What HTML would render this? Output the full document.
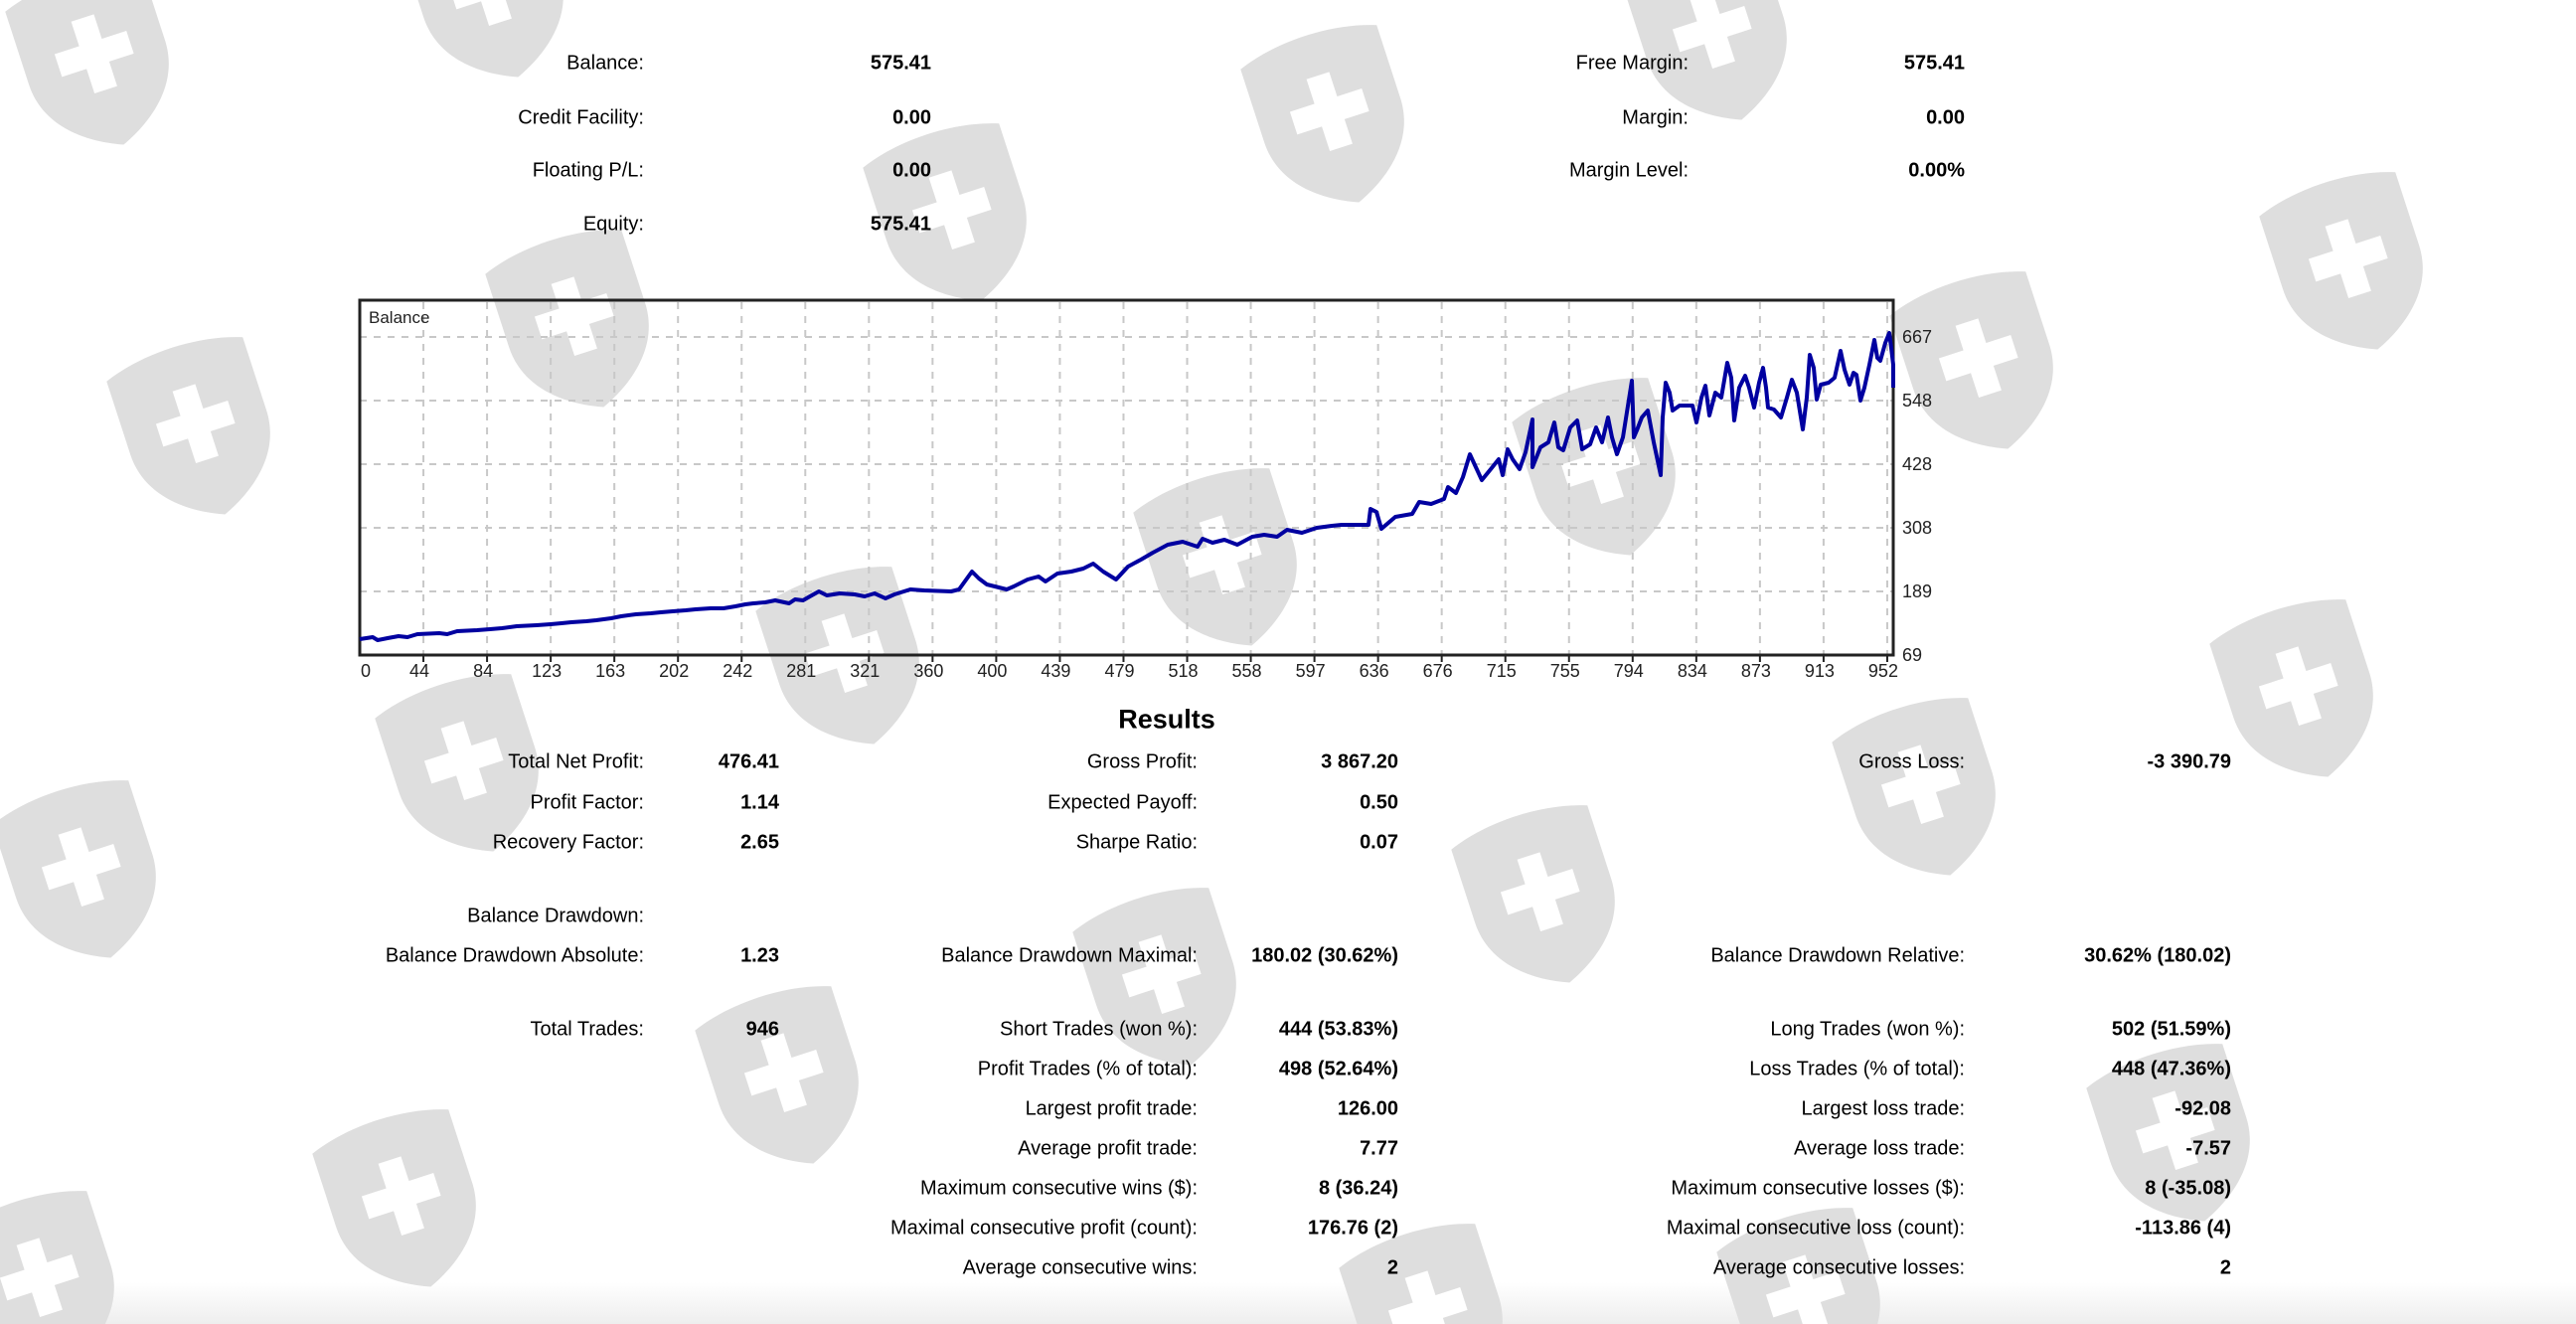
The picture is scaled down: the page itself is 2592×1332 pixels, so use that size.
<!DOCTYPE html>
<html><head><meta charset="utf-8">
<style>
html,body{margin:0;padding:0;overflow:hidden}
body{width:2592px;height:1332px;position:relative;overflow:hidden;background:#fff;font-family:"Liberation Sans",sans-serif;color:#000}
.bot{position:absolute;left:0;top:1290px;width:2592px;height:42px;background:linear-gradient(#fff,#eeeeee)}
.l,.v{position:absolute;font-size:20px;white-space:nowrap;transform:translateY(-50%)}
.l{text-align:right}
.v{text-align:right;font-weight:bold}
svg{position:absolute;left:0;top:0;overflow:hidden}
</style></head><body>
<div class="bot"></div>
<svg width="2592" height="1332" viewBox="0 0 2592 1332">
<defs>
<g id="sh"><path d="M-72,-72 C-30,-88 30,-88 72,-72 L72,5 C72,50 35,78 0,92 C-35,78 -72,50 -72,5 Z" fill="#dedede"/><rect x="-12" y="-42" width="24" height="76" fill="#fff"/><rect x="-38" y="-16" width="76" height="24" fill="#fff"/></g>
</defs>
<g transform="translate(96,58) rotate(-18)"><use href="#sh"/></g>
<g transform="translate(493,-10) rotate(-18)"><use href="#sh"/></g>
<g transform="translate(1724,33) rotate(-18)"><use href="#sh"/></g>
<g transform="translate(1339,116) rotate(-18)"><use href="#sh"/></g>
<g transform="translate(959,215) rotate(-18)"><use href="#sh"/></g>
<g transform="translate(579,322) rotate(-18)"><use href="#sh"/></g>
<g transform="translate(1992,364) rotate(-18)"><use href="#sh"/></g>
<g transform="translate(2364,264) rotate(-18)"><use href="#sh"/></g>
<g transform="translate(198,430) rotate(-18)"><use href="#sh"/></g>
<g transform="translate(1612,471) rotate(-18)"><use href="#sh"/></g>
<g transform="translate(1231,562) rotate(-18)"><use href="#sh"/></g>
<g transform="translate(851,661) rotate(-18)"><use href="#sh"/></g>
<g transform="translate(468,769) rotate(-18)"><use href="#sh"/></g>
<g transform="translate(2314,694) rotate(-18)"><use href="#sh"/></g>
<g transform="translate(83,876) rotate(-18)"><use href="#sh"/></g>
<g transform="translate(1934,793) rotate(-18)"><use href="#sh"/></g>
<g transform="translate(1551,901) rotate(-18)"><use href="#sh"/></g>
<g transform="translate(1170,984) rotate(-18)"><use href="#sh"/></g>
<g transform="translate(790,1083) rotate(-18)"><use href="#sh"/></g>
<g transform="translate(2190,1141) rotate(-18)"><use href="#sh"/></g>
<g transform="translate(405,1207) rotate(-18)"><use href="#sh"/></g>
<g transform="translate(41,1289) rotate(-18)"><use href="#sh"/></g>
<g transform="translate(1438,1322) rotate(-18)"><use href="#sh"/></g>
<g transform="translate(1818,1306) rotate(-18)"><use href="#sh"/></g>

<g stroke="#c8c8c8" stroke-width="2" stroke-dasharray="7,7">
<line x1="362" y1="339" x2="1905" y2="339"/><line x1="362" y1="403" x2="1905" y2="403"/>
<line x1="362" y1="467" x2="1905" y2="467"/><line x1="362" y1="531" x2="1905" y2="531"/>
<line x1="362" y1="595" x2="1905" y2="595"/>
</g>
<g id="vg" stroke="#c8c8c8" stroke-width="2" stroke-dasharray="7,7"></g>
<rect x="362" y="302" width="1543" height="357" fill="none" stroke="#222" stroke-width="3"/>
<text x="371" y="325" font-family="Liberation Sans,sans-serif" font-size="17" fill="#222">Balance</text>
<polyline fill="none" stroke="#0000a0" stroke-width="4" stroke-linejoin="round" points="362,643 375,641 380,644 390,642 401,640 410,641 420,638 442,637 450,638 460,635 480,634 493,633 505,632 520,630 540,629 554,628 565,627 575,626 590,625 600,624 615,622 625,620 640,618 655,617 665,616 677,615 690,614 700,613 715,612 728,612 740,610 750,608 758,607 770,606 780,604 794,607 800,603 808,604 815,600 824,595 832,599 845,597 860,598 870,600 880,597 891,602 900,598 916,593 930,594 957,595 965,593 978,575 985,582 993,588 1005,591 1013,593 1020,590 1034,583 1045,580 1052,585 1064,577 1078,575 1090,572 1100,567 1110,575 1123,583 1135,570 1148,563 1160,556 1175,548 1190,545 1205,550 1210,542 1220,546 1232,543 1245,548 1260,540 1272,538 1285,540 1295,533 1310,536 1325,531 1340,529 1350,528 1377,528 1379,512 1385,515 1390,532 1404,520 1421,517 1428,505 1440,507 1453,502 1457,490 1465,496 1472,480 1479,457 1485,470 1491,483 1500,472 1508,462 1512,478 1517,452 1522,462 1529,472 1535,455 1542,422 1542,470 1550,450 1558,445 1564,425 1568,450 1573,453 1580,430 1587,423 1592,452 1600,447 1606,430 1612,445 1618,420 1622,440 1627,457 1633,440 1642,383 1644,440 1647,433 1652,420 1658,413 1664,445 1671,478 1673,420 1676,385 1680,395 1683,413 1690,408 1703,408 1707,425 1712,400 1716,388 1720,418 1726,395 1732,400 1738,365 1742,380 1745,423 1750,390 1756,378 1760,390 1765,410 1770,385 1774,370 1777,390 1779,410 1785,412 1792,420 1798,400 1803,382 1808,395 1814,432 1818,400 1821,357 1825,370 1828,402 1832,387 1840,385 1846,380 1852,353 1856,372 1861,387 1865,375 1868,377 1872,403 1876,390 1881,367 1886,342 1889,360 1892,363 1897,345 1901,335 1903,350 1905,367 1905,390"/>
<g font-family="Liberation Sans,sans-serif" font-size="18" fill="#222">
<text x="1914" y="345">667</text><text x="1914" y="409">548</text><text x="1914" y="473">428</text>
<text x="1914" y="537">308</text><text x="1914" y="601">189</text><text x="1914" y="665">69</text>
</g>
<g id="xl" font-family="Liberation Sans,sans-serif" font-size="18" fill="#222" text-anchor="middle"></g>
</svg>
<script>
var labs=[0,44,84,123,163,202,242,281,321,360,400,439,479,518,558,597,636,676,715,755,794,834,873,913,952];
var vg=document.getElementById('vg'),xl=document.getElementById('xl'),ns='http://www.w3.org/2000/svg';
for(var i=0;i<labs.length;i++){var x=362+i*64.04;
if(i>0){var l=document.createElementNS(ns,'line');l.setAttribute('x1',x);l.setAttribute('x2',x);l.setAttribute('y1',304);l.setAttribute('y2',659);vg.appendChild(l);
var t=document.createElementNS(ns,'line');t.setAttribute('x1',x);t.setAttribute('x2',x);t.setAttribute('y1',659);t.setAttribute('y2',666);t.setAttribute('stroke','#222');t.setAttribute('stroke-width','2');xl.appendChild(t);}
var tx=document.createElementNS(ns,'text');tx.setAttribute('x',i==0?x+6:x-4);tx.setAttribute('y',681);tx.textContent=labs[i];xl.appendChild(tx);}
</script>

<div class="l" style="right:1944px;top:64px">Balance:</div><div class="v" style="right:1655px;top:64px">575.41</div>
<div class="l" style="right:1944px;top:119px">Credit Facility:</div><div class="v" style="right:1655px;top:119px">0.00</div>
<div class="l" style="right:1944px;top:172px">Floating P/L:</div><div class="v" style="right:1655px;top:172px">0.00</div>
<div class="l" style="right:1944px;top:226px">Equity:</div><div class="v" style="right:1655px;top:226px">575.41</div>
<div class="l" style="right:893px;top:64px">Free Margin:</div><div class="v" style="right:615px;top:64px">575.41</div>
<div class="l" style="right:893px;top:119px">Margin:</div><div class="v" style="right:615px;top:119px">0.00</div>
<div class="l" style="right:893px;top:172px">Margin Level:</div><div class="v" style="right:615px;top:172px">0.00%</div>

<div class="v" style="left:1074px;width:200px;text-align:center;top:724px;font-size:27px">Results</div>

<div class="l" style="right:1944px;top:767px">Total Net Profit:</div><div class="v" style="right:1808px;top:767px">476.41</div>
<div class="l" style="right:1387px;top:767px">Gross Profit:</div><div class="v" style="right:1185px;top:767px">3 867.20</div>
<div class="l" style="right:615px;top:767px">Gross Loss:</div><div class="v" style="right:347px;top:767px">-3 390.79</div>
<div class="l" style="right:1944px;top:808px">Profit Factor:</div><div class="v" style="right:1808px;top:808px">1.14</div>
<div class="l" style="right:1387px;top:808px">Expected Payoff:</div><div class="v" style="right:1185px;top:808px">0.50</div>
<div class="l" style="right:1944px;top:848px">Recovery Factor:</div><div class="v" style="right:1808px;top:848px">2.65</div>
<div class="l" style="right:1387px;top:848px">Sharpe Ratio:</div><div class="v" style="right:1185px;top:848px">0.07</div>

<div class="l" style="right:1944px;top:922px">Balance Drawdown:</div>
<div class="l" style="right:1944px;top:962px">Balance Drawdown Absolute:</div><div class="v" style="right:1808px;top:962px">1.23</div>
<div class="l" style="right:1387px;top:962px">Balance Drawdown Maximal:</div><div class="v" style="right:1185px;top:962px">180.02 (30.62%)</div>
<div class="l" style="right:615px;top:962px">Balance Drawdown Relative:</div><div class="v" style="right:347px;top:962px">30.62% (180.02)</div>

<div class="l" style="right:1944px;top:1036px">Total Trades:</div><div class="v" style="right:1808px;top:1036px">946</div>
<div class="l" style="right:1387px;top:1036px">Short Trades (won %):</div><div class="v" style="right:1185px;top:1036px">444 (53.83%)</div>
<div class="l" style="right:615px;top:1036px">Long Trades (won %):</div><div class="v" style="right:347px;top:1036px">502 (51.59%)</div>
<div class="l" style="right:1387px;top:1076px">Profit Trades (% of total):</div><div class="v" style="right:1185px;top:1076px">498 (52.64%)</div>
<div class="l" style="right:615px;top:1076px">Loss Trades (% of total):</div><div class="v" style="right:347px;top:1076px">448 (47.36%)</div>
<div class="l" style="right:1387px;top:1116px">Largest profit trade:</div><div class="v" style="right:1185px;top:1116px">126.00</div>
<div class="l" style="right:615px;top:1116px">Largest loss trade:</div><div class="v" style="right:347px;top:1116px">-92.08</div>
<div class="l" style="right:1387px;top:1156px">Average profit trade:</div><div class="v" style="right:1185px;top:1156px">7.77</div>
<div class="l" style="right:615px;top:1156px">Average loss trade:</div><div class="v" style="right:347px;top:1156px">-7.57</div>
<div class="l" style="right:1387px;top:1196px">Maximum consecutive wins ($):</div><div class="v" style="right:1185px;top:1196px">8 (36.24)</div>
<div class="l" style="right:615px;top:1196px">Maximum consecutive losses ($):</div><div class="v" style="right:347px;top:1196px">8 (-35.08)</div>
<div class="l" style="right:1387px;top:1236px">Maximal consecutive profit (count):</div><div class="v" style="right:1185px;top:1236px">176.76 (2)</div>
<div class="l" style="right:615px;top:1236px">Maximal consecutive loss (count):</div><div class="v" style="right:347px;top:1236px">-113.86 (4)</div>
<div class="l" style="right:1387px;top:1276px">Average consecutive wins:</div><div class="v" style="right:1185px;top:1276px">2</div>
<div class="l" style="right:615px;top:1276px">Average consecutive losses:</div><div class="v" style="right:347px;top:1276px">2</div>
</body></html>
